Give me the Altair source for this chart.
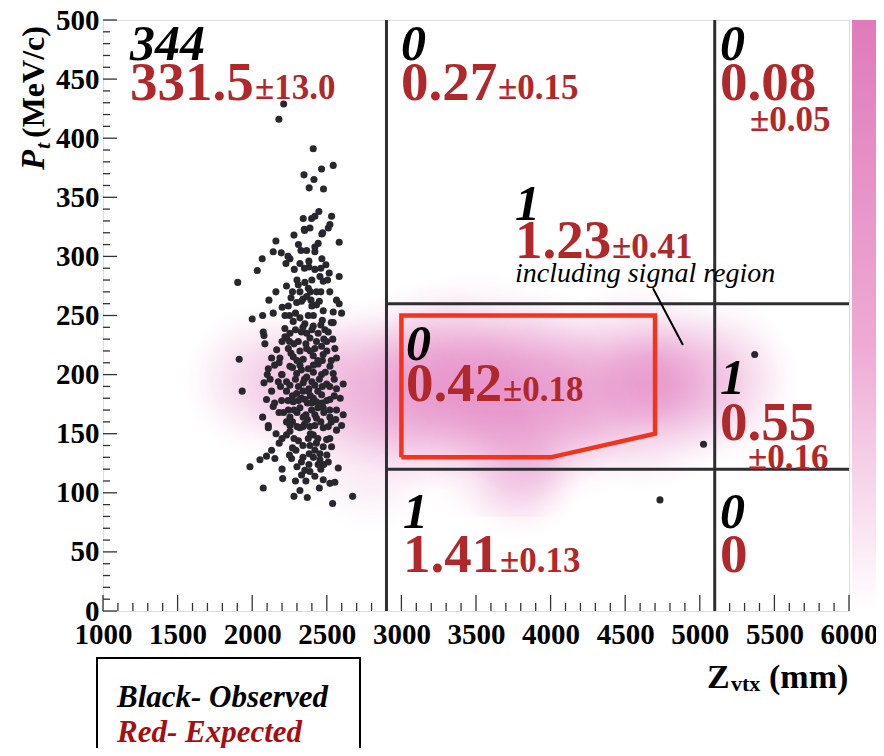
import altair as alt
import pandas as pd

# ---------------- data ----------------
# observed events: Z_vtx (mm), Pt (MeV/c)
obs_z = [2211, 2179, 2409, 2543, 2465, 2347, 2414, 2382, 2478, 2447, 2532, 2342, 2398, 2420, 2521, 2349, 2387, 2472, 2510,
         2351, 2467, 2583, 2159, 2442, 2420, 2141, 2195, 2327, 2365, 2067, 2253, 2226, 2320, 2467, 2494, 2380, 2420, 2282, 2034,
         2516, 2454, 2583, 2476, 1903, 2505, 2353, 2309, 2230, 2376, 2431, 2320, 2159, 2260, 2365, 2112, 2394, 2565, 2298, 2431,
         2201, 2242, 2583, 2476, 2543, 2141, 2070, 2000, 2320, 2376, 2599, 2275, 2353, 2409, 2543, 2219, 2074, 2253, 2365, 2442, 2487,
         2079, 2230, 2309, 2387, 2431, 2499, 2085, 2164, 2242, 2320, 2365, 2465, 2554, 1913, 2130, 2186, 2275, 2342, 2409, 2476, 2565,
         2108, 2253, 2320, 2376, 2442, 2521, 2101, 2197, 2298, 2365, 2465, 2543, 2079, 2175, 2253, 2342, 2420, 2499, 2610, 1933, 2130,
         2230, 2298, 2376, 2465, 2565, 2096, 2197, 2275, 2353, 2431, 2521, 2141, 2242, 2320, 2398, 2476, 2565, 2070, 2253, 2342, 2431,
         2521, 2610, 2108, 2253, 2342, 2420, 2510, 2599,
         2108, 2253, 2320, 2387, 2476, 2565, 2230, 2376, 2409, 2499, 2181, 2387, 2476, 2532, 2130, 2293, 2382, 2454, 2096, 2152, 2052,
         2264, 2454, 2510, 1985, 2442, 2577, 2353, 2387, 2331, 2420, 2204, 2476, 2521, 2554, 2074, 2320, 2280, 2369, 2673, 2539,
         2290, 2340, 2400, 2460, 2510, 2280, 2360, 2420, 2480, 2540, 2260, 2300, 2390, 2440, 2500, 2330, 2410, 2450, 2350, 2290,
         2380, 2440, 2520, 2270, 2330, 2410, 2470, 2550, 2300, 2370, 2420, 2480, 2530, 2270, 2350, 2390, 2440, 2310, 2270, 2340,
         2420, 2500, 2380, 2460, 2300, 2210, 2190, 2180, 2220, 2160, 2400, 2340, 2460, 2300, 2380, 2420, 2280, 2250, 2200, 2150,
         2240, 2310, 2350, 2400, 2460, 2270, 2330, 2390, 2450, 2520, 2220, 2290, 2410, 2470, 2530, 2250, 2330, 2470, 2530, 2200,
         2270, 2410, 2490, 2230, 2310, 2400, 2470, 2550, 2120, 2150, 2240, 2310, 2390, 2500, 2590, 2180, 2280, 2360, 2440, 2520,
         2230, 2300, 2370, 2460, 2560, 2200, 2280, 2340, 2430, 2520, 2250, 2330, 2410, 2480, 2200, 2360, 2450, 2290, 2400, 2340,
         4733, 5025, 5368]
obs_pt = [429, 416, 391, 377, 374, 369, 365, 358, 357, 338, 334, 332, 332, 334, 327, 323, 324, 320, 324,
          322, 319, 312, 313, 311, 308, 304, 303, 305, 305, 298, 298, 294, 294, 298, 293, 291, 289, 289, 288,
          286, 283, 283, 279, 278, 280, 278, 276, 275, 273, 270, 270, 270, 265, 266, 263, 263, 263, 261, 259,
          257, 258, 260, 254, 253, 252, 250, 247, 248, 250, 252, 245, 243, 241, 244, 239, 236, 235, 235, 235, 238,
          233, 231, 228, 231, 228, 228, 226, 221, 222, 220, 222, 224, 222, 213, 214, 214, 215, 213, 216, 217, 214,
          205, 207, 208, 205, 209, 207, 200, 200, 201, 198, 200, 201, 193, 194, 191, 193, 191, 192, 192, 186, 186,
          186, 184, 186, 183, 188, 179, 178, 177, 179, 177, 179, 173, 170, 172, 170, 172, 170, 164, 164, 164, 163,
          164, 166, 157, 157, 156, 157, 156, 157,
          155, 152, 155, 156, 155, 153, 149, 146, 149, 145, 142, 140, 139, 139, 136, 136, 133, 133, 131, 129, 128,
          129, 128, 126, 122, 124, 121, 119, 118, 115, 114, 112, 111, 108, 109, 104, 102, 97, 96, 97, 91,
          238, 240, 238, 242, 236, 226, 226, 222, 230, 230, 218, 212, 220, 212, 220, 204, 202, 196, 196, 196,
          188, 186, 190, 182, 180, 180, 176, 182, 168, 176, 166, 168, 160, 160, 158, 150, 146, 144, 138, 130,
          136, 132, 124, 120, 122, 168, 190, 210, 232, 150, 258, 264, 270, 280, 296, 304, 318, 250, 228, 176,
          300, 310, 290, 280, 290, 270, 262, 270, 262, 270, 250, 252, 250, 246, 244, 228, 236, 212, 212, 200,
          206, 208, 202, 194, 190, 194, 190, 196, 196, 208, 178, 178, 182, 178, 180, 168, 170, 166, 172, 170,
          160, 156, 162, 160, 162, 146, 146, 140, 142, 146, 132, 126, 130, 124, 120, 110, 104, 110, 176, 186,
          94, 141, 217]

# expected-signal cloud, as soft blobs: z range, pt range, strength
cloud_z1 = [1530, 1900, 2500, 3200, 3900, 4530, 4250, 3400, 2800, 2300, 2630, 3300, 3160, 2250]
cloud_z2 = [2570, 3100, 3900, 4600, 5300, 5670, 5050, 4200, 4200, 3300, 3970, 4700, 4240, 3450]
cloud_p1 = [131, 114, 101, 96, 101, 123, 144, 59, 111, 66, 95, 89, 80, 117]
cloud_p2 = [259, 266, 279, 274, 279, 267, 246, 161, 289, 190, 265, 261, 170, 263]
cloud_a = [0.25, 0.35, 0.42, 0.45, 0.5, 0.35, 0.28, 0.2, 0.3, 0.15, 0.25, 0.3, 0.18, 0.2]

# region borders
grid_z1 = [2900, 5100, 2900, 2900]
grid_z2 = [2900, 5100, 6000, 6000]
grid_p1 = [0, 0, 260, 120]
grid_p2 = [500, 500, 260, 120]

# signal region polygon
sig_z = [3000, 3000, 4700, 4700, 4000, 3000]
sig_pt = [130, 250, 250, 150, 130, 130]

# pointer from note to signal region
ptr_z1, ptr_z2, ptr_p1, ptr_p2 = [4686], [4887], [273], [225]

# observed counts (black) and expected (red)
obs_txt = ["344", "0", "0", "1", "0", "1", "1", "0"]
obs_tz = [1181, 2997, 5135, 3761, 3031, 5135, 3011, 5135]
obs_tp = [466, 466, 466, 331, 212, 184, 70, 70]
exp_txt = ["331.5", "0.27", "0.08", "1.23", "0.42", "0.55", "1.41", "0"]
exp_tz = [1181, 2997, 5135, 3761, 3031, 5135, 3011, 5135]
exp_tp = [432, 432, 432, 299, 178, 145, 33, 33]
err_txt = ["±13.0", "±0.15", "±0.05", "±0.41", "±0.18", "±0.16", "±0.13"]
err_tz = [2019, 3647, 5336, 4411, 3681, 5323, 3661]
err_tp = [433, 433, 406, 299, 178, 120, 33]
note_txt = ["including signal region"]
note_tz, note_tp = [3761], [278]

x_major = [1000, 1500, 2000, 2500, 3000, 3500, 4000, 4500, 5000, 5500, 6000]
x_minor = [v for v in range(1000, 6001, 100) if v % 500]
y_major = [0, 50, 100, 150, 200, 250, 300, 350, 400, 450, 500]
y_minor = [v for v in range(0, 501, 10) if v % 50]

# ---------------- chart ----------------
W, H = 746, 591
SERIF = "Liberation Serif"
RED = "#b0282a"
xs = alt.Scale(domain=[1000, 6000], nice=False, zero=False)
ys = alt.Scale(domain=[0, 500], nice=False, zero=False)

xax = alt.Axis(values=x_major, labelFont=SERIF, labelFontWeight="bold", labelFontSize=29,
               labelColor="black", labelPadding=9, tickSize=0, domain=False, grid=False,
               labelFlush=False, labelOverlap=False, title=None, format="d")
yax = alt.Axis(values=y_major, labelFont=SERIF, labelFontWeight="bold", labelFontSize=29,
               labelColor="black", labelPadding=4, tickSize=0, domain=False, grid=False,
               labelFlush=False, labelOverlap=False, title=None, format="d")

one = pd.DataFrame({"k": [0]})

PINK = "221,105,182"
cloud = alt.Chart(pd.DataFrame({"z1": cloud_z1, "z2": cloud_z2, "p1": cloud_p1, "p2": cloud_p2, "a": cloud_a})).mark_rect(
    fill={"gradient": "radial", "x1": 0.5, "y1": 0.5, "r1": 0, "x2": 0.5, "y2": 0.5, "r2": 0.5,
          "stops": [{"offset": 0, "color": f"rgba({PINK},1)"},
                    {"offset": 0.3, "color": f"rgba({PINK},0.85)"},
                    {"offset": 0.55, "color": f"rgba({PINK},0.5)"},
                    {"offset": 0.8, "color": f"rgba({PINK},0.15)"},
                    {"offset": 1, "color": f"rgba({PINK},0)"}]}
).encode(
    x=alt.X("z1:Q", scale=xs, axis=xax), x2="z2:Q",
    y=alt.Y("p1:Q", scale=ys, axis=yax), y2="p2:Q",
    opacity=alt.Opacity("a:Q", scale=None),
)

colorbar = alt.Chart(one).mark_rect(
    fill={"gradient": "linear", "x1": 0, "y1": 0, "x2": 0, "y2": 1,
          "stops": [{"offset": 0, "color": "#df7bbb"},
                    {"offset": 0.55, "color": "#eeaad4"},
                    {"offset": 1, "color": "#ffffff"}]}
).encode(x=alt.value(W + 3), x2=alt.value(W + 45), y=alt.value(0), y2=alt.value(H))

def rules(vals, horizontal, length):
    df = pd.DataFrame({"v": vals})
    if horizontal:
        return alt.Chart(df).mark_rule(color="#333", strokeWidth=1.3).encode(
            y=alt.Y("v:Q", scale=ys), x=alt.value(0), x2=alt.value(length))
    return alt.Chart(df).mark_rule(color="#333", strokeWidth=1.3).encode(
        x=alt.X("v:Q", scale=xs), y=alt.value(H), y2=alt.value(H - length))

grid = alt.Chart(pd.DataFrame({"z1": grid_z1, "z2": grid_z2, "p1": grid_p1, "p2": grid_p2})).mark_rule(
    color="#2e2e33", strokeWidth=3).encode(
    x=alt.X("z1:Q", scale=xs), x2="z2:Q", y=alt.Y("p1:Q", scale=ys), y2="p2:Q")

sig = alt.Chart(pd.DataFrame({"z": sig_z, "p": sig_pt, "o": list(range(len(sig_z)))})).mark_line(
    color="#f2341c", strokeWidth=4.5, strokeJoin="miter").encode(
    x=alt.X("z:Q", scale=xs), y=alt.Y("p:Q", scale=ys), order="o:Q")

ptr = alt.Chart(pd.DataFrame({"z1": ptr_z1, "z2": ptr_z2, "p1": ptr_p1, "p2": ptr_p2})).mark_rule(
    color="black", strokeWidth=2).encode(
    x=alt.X("z1:Q", scale=xs), x2="z2:Q", y=alt.Y("p1:Q", scale=ys), y2="p2:Q")

pts = alt.Chart(pd.DataFrame({"z": obs_z, "p": obs_pt})).mark_circle(
    size=50, color="#27272d", opacity=1).encode(
    x=alt.X("z:Q", scale=xs), y=alt.Y("p:Q", scale=ys))

def texts(t, z, p, **kw):
    return alt.Chart(pd.DataFrame({"t": t, "z": z, "p": p})).mark_text(
        align="left", baseline="alphabetic", font=SERIF, **kw).encode(
        x=alt.X("z:Q", scale=xs), y=alt.Y("p:Q", scale=ys), text="t:N")

t_obs = texts(obs_txt, obs_tz, obs_tp, fontSize=50, fontStyle="italic", fontWeight="bold", color="black")
t_exp = texts(exp_txt, exp_tz, exp_tp, fontSize=55, fontWeight="bold", color=RED)
t_err = texts(err_txt, err_tz, err_tp, fontSize=35, fontWeight="bold", color=RED)
t_note = texts(note_txt, note_tz, note_tp, fontSize=28, fontStyle="italic", color="black")

def ptext(s, x, y, **kw):
    return alt.Chart(one).mark_text(font=SERIF, baseline="alphabetic", **kw).encode(
        x=alt.value(x), y=alt.value(y), text=alt.value(s))

ytitle = [
    ptext("P", -59, 150, angle=270, align="left", fontSize=33, fontStyle="italic", fontWeight="bold", color="black"),
    ptext("t", -53, 129, angle=270, align="left", fontSize=22, fontStyle="italic", fontWeight="bold", color="black"),
    ptext("(MeV/c)", -59, 118, angle=270, align="left", fontSize=32, fontWeight="bold", color="black"),
]
xtitle = [
    ptext("Z", 604, 668, align="left", fontSize=34, fontWeight="bold", color="black"),
    ptext("vtx", 628, 671, align="left", fontSize=22, fontWeight="bold", color="black"),
    ptext("(mm)", 666, 668, align="left", fontSize=34, fontWeight="bold", color="black"),
]

legend_box = alt.Chart(one).mark_rect(fill="white", stroke="black", strokeWidth=2).encode(
    x=alt.value(-6), x2=alt.value(257), y=alt.value(638), y2=alt.value(790))
legend_txt = [
    ptext("Black- Observed", 14, 687, align="left", fontSize=31, fontStyle="italic", fontWeight="bold", color="black"),
    ptext("Red- Expected", 14, 722, align="left", fontSize=31, fontStyle="italic", fontWeight="bold", color="#a50f12"),
]

chart = alt.layer(
    cloud, colorbar,
    rules(y_minor, True, 7), rules(y_major, True, 14),
    rules(x_minor, False, 8), rules(x_major, False, 16),
    grid, sig, ptr, pts,
    t_obs, t_exp, t_err, t_note,
    *ytitle, *xtitle, legend_box, *legend_txt,
).properties(
    width=W, height=H,
    autosize=alt.AutoSizeParams(type="none"),
    padding={"left": 95, "top": 12, "right": 27, "bottom": 137},
).configure_view(stroke="#333", strokeWidth=2).configure(background="white")

chart.save("out.html", embed_options={"renderer": "svg", "actions": False})
